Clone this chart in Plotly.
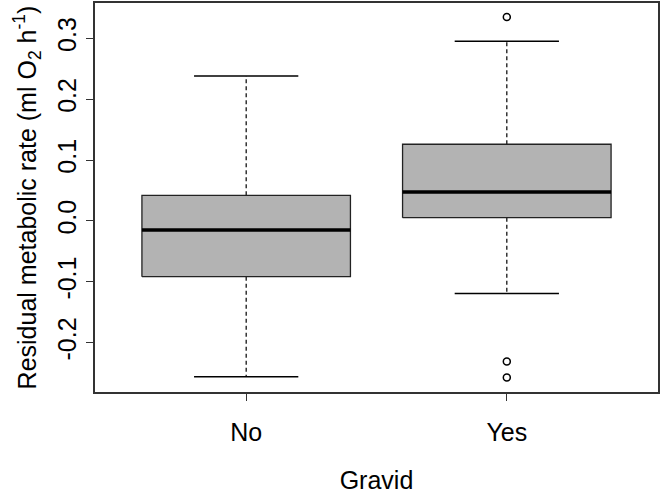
import plotly.graph_objects as go

# Data
categories = ["No", "Yes"]
q1 = [-0.0915, 0.0054]
medians = [-0.0148, 0.0476]
q3 = [0.042, 0.126]
lower_whisker = [-0.256, -0.119]
upper_whisker = [0.238, 0.295]
outliers = [[], [0.335, -0.231, -0.257]]
y_ticks = [-0.2, -0.1, 0.0, 0.1, 0.2, 0.3]
y_ticklabels = ["-0.2", "-0.1", "0.0", "0.1", "0.2", "0.3"]

FONT = "Liberation Sans, Arial, Helvetica, sans-serif"
BOX_HALF = 0.4
CAP_HALF = 0.2
fig = go.Figure()

for i, cat in enumerate(categories):
    xc = i + 1
    # dashed whiskers
    fig.add_trace(go.Scatter(
        x=[xc, xc, None, xc, xc],
        y=[q3[i], upper_whisker[i], None, q1[i], lower_whisker[i]],
        mode="lines", line=dict(color="black", width=1.2, dash="4px,3px"),
        hoverinfo="skip", showlegend=False))
    # caps
    fig.add_trace(go.Scatter(
        x=[xc - CAP_HALF, xc + CAP_HALF, None, xc - CAP_HALF, xc + CAP_HALF],
        y=[upper_whisker[i], upper_whisker[i], None, lower_whisker[i], lower_whisker[i]],
        mode="lines", line=dict(color="black", width=1.5),
        hoverinfo="skip", showlegend=False))
    # box
    fig.add_trace(go.Scatter(
        x=[xc - BOX_HALF, xc + BOX_HALF, xc + BOX_HALF, xc - BOX_HALF, xc - BOX_HALF],
        y=[q1[i], q1[i], q3[i], q3[i], q1[i]],
        mode="lines", fill="toself", fillcolor="#B3B3B3",
        line=dict(color="#222222", width=1.3),
        hoverinfo="skip", showlegend=False))
    # median
    fig.add_trace(go.Scatter(
        x=[xc - BOX_HALF, xc + BOX_HALF],
        y=[medians[i], medians[i]],
        mode="lines", line=dict(color="black", width=3.5),
        hoverinfo="skip", showlegend=False))
    # outliers
    if outliers[i]:
        fig.add_trace(go.Scatter(
            x=[xc] * len(outliers[i]), y=outliers[i],
            mode="markers",
            marker=dict(symbol="circle-open", size=7, color="black",
                        line=dict(width=1.5, color="black")),
            showlegend=False))

fig.update_layout(
    width=661, height=497,
    margin=dict(l=95, r=1, t=3, b=105),
    plot_bgcolor="white", paper_bgcolor="white",
    font=dict(family=FONT, size=25, color="black"),
    showlegend=False,
)
fig.update_xaxes(
    range=[0.42, 2.58],
    tickmode="array", tickvals=[1, 2], ticktext=categories,
    showline=True, linecolor="#333333", linewidth=1.5, mirror=True,
    ticks="outside", ticklen=7, tickcolor="#333333", tickwidth=1.3,
    showgrid=False, zeroline=False,
    tickfont=dict(size=25), ticklabelstandoff=10,
    title=dict(text="Gravid", font=dict(size=25), standoff=27),
)
fig.update_yaxes(
    range=[-0.281, 0.358],
    tickmode="array", tickvals=y_ticks, ticktext=y_ticklabels,
    tickangle=-90,
    showline=True, linecolor="#333333", linewidth=1.5, mirror=True,
    ticks="outside", ticklen=7, tickcolor="#333333", tickwidth=1.3,
    showgrid=False, zeroline=False,
    tickfont=dict(size=25),
    title=dict(text="Residual metabolic rate (ml O<sub>2</sub> h<sup>-1</sup>)",
               font=dict(size=25), standoff=10),
)

fig.write_html("out.html")
